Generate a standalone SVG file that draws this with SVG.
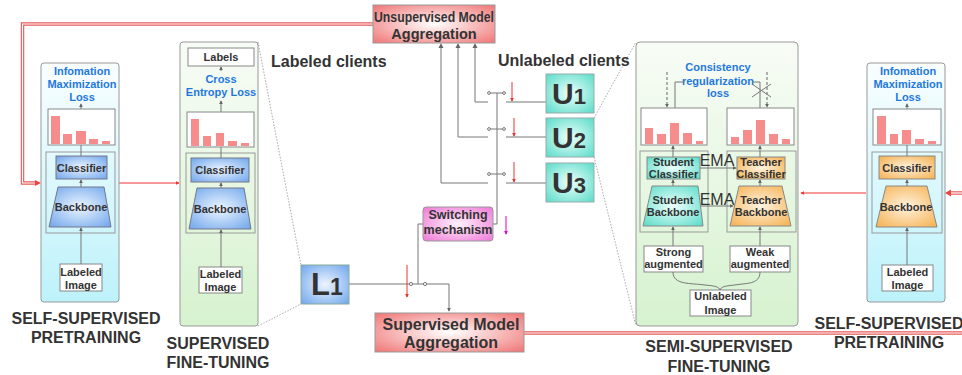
<svg xmlns="http://www.w3.org/2000/svg" width="962" height="375" viewBox="0 0 962 375">
<defs>
<linearGradient id="gCyan" x1="0" y1="0" x2="0" y2="1"><stop offset="0" stop-color="#f9feff"/><stop offset="1" stop-color="#bdf2fb"/></linearGradient>
<linearGradient id="gGreen" x1="0" y1="0" x2="0" y2="1"><stop offset="0" stop-color="#f8fcf6"/><stop offset="1" stop-color="#d6f2cf"/></linearGradient>
<radialGradient id="gBlue" cx="0.5" cy="0.5" r="0.7"><stop offset="0" stop-color="#eef5ff"/><stop offset="1" stop-color="#6ea6ec"/></radialGradient>
<radialGradient id="gOrange" cx="0.5" cy="0.5" r="0.7"><stop offset="0" stop-color="#fff3e0"/><stop offset="1" stop-color="#f5b04e"/></radialGradient>
<radialGradient id="gTeal" cx="0.5" cy="0.5" r="0.7"><stop offset="0" stop-color="#effffc"/><stop offset="1" stop-color="#58dcc8"/></radialGradient>
<radialGradient id="gPink" cx="0.5" cy="0.5" r="0.7"><stop offset="0" stop-color="#fff2fc"/><stop offset="1" stop-color="#ef78d6"/></radialGradient>
<radialGradient id="gRed" cx="0.5" cy="0.5" r="0.7"><stop offset="0" stop-color="#ffffff"/><stop offset="1" stop-color="#f07474"/></radialGradient>
<marker id="aG" viewBox="0 0 6 6" refX="5" refY="3" markerWidth="4" markerHeight="4" orient="auto"><path d="M0,0 L6,3 L0,6 z" fill="#666"/></marker>
<marker id="aR" viewBox="0 0 6 6" refX="5" refY="3" markerWidth="4" markerHeight="4" orient="auto"><path d="M0,0 L6,3 L0,6 z" fill="#e33"/></marker>
<marker id="aM" viewBox="0 0 6 6" refX="5" refY="3" markerWidth="4" markerHeight="4" orient="auto"><path d="M0,0 L6,3 L0,6 z" fill="#d0c"/></marker>
</defs>
<style>
text{font-family:"Liberation Sans",Arial,sans-serif;fill:#333;}
.t{font-size:11px;font-weight:bold;text-anchor:middle;}
.b{font-size:11px;font-weight:bold;text-anchor:middle;fill:#1f78e0;}
.h{font-size:16px;font-weight:bold;text-anchor:middle;}
.panel{stroke:#999;stroke-width:1;}
.box{fill:none;stroke:#999;stroke-width:1;}
.wbox{fill:#fff;stroke:#888;stroke-width:1;}
.bar{fill:#f78c8c;}
.ln{fill:none;stroke:#777;stroke-width:1;}
.lna{fill:none;stroke:#777;stroke-width:1;marker-end:url(#aG);}
.dot{fill:none;stroke:#aaa;stroke-width:1;stroke-dasharray:1.5 1.5;}
.r2o{fill:none;stroke:#e65a5a;stroke-width:3.5;}
.r2i{fill:none;stroke:#fff;stroke-width:1.2;}
.rt{fill:none;stroke:#e33;stroke-width:1;}
.sw circle{fill:#fff;stroke:#777;stroke-width:1;}
</style>

<!-- connectors -->
<g id="connectors">
  <path class="r2o" d="M373,24 H22.5 V183 H37"/>
  <path class="r2i" d="M373,24 H22.5 V183 H37"/>
  <path d="M35,180 L41,183 L35,186 z" fill="#e44"/>
  <line class="rt" x1="119" y1="183" x2="179" y2="183" marker-end="url(#aR)"/>
  <path class="r2o" d="M524,333 H962"/>
  <path class="r2i" d="M524,333 H962"/>
  <path class="r2o" d="M962,193 H949"/>
  <path class="r2i" d="M962,193 H949"/>
  <path d="M951,189.5 L945,193 L951,196.5 z" fill="#e44"/>
  <line class="rt" x1="866" y1="193" x2="801" y2="193" marker-end="url(#aR)"/>
  <line class="dot" x1="258" y1="42" x2="301" y2="265"/>
  <line class="dot" x1="258" y1="326" x2="301" y2="304"/>
  <line class="dot" x1="594" y1="118" x2="636" y2="42"/>
  <line class="dot" x1="594" y1="157" x2="636" y2="326"/>
  <path class="ln" d="M349,284 H449 V311" marker-end="url(#aG)"/>
  <g class="sw"><circle cx="411" cy="284" r="1.6"/><circle cx="425" cy="284" r="1.6"/></g>
  <line class="rt" x1="407" y1="265" x2="407" y2="297" marker-end="url(#aR)"/>
  <path class="ln" d="M418,284 V224 H423"/>
  <path class="ln" d="M475,45 V102 H488"/>
  <path class="ln" d="M458,45 V137 H488"/>
  <path class="ln" d="M441,45 V183 H488"/>
  <path d="M441,43 L438.5,48 L443.5,48 z M458,43 L455.5,48 L460.5,48 z M475,43 L472.5,48 L477.5,48 z" fill="#666"/>
  <line class="ln" x1="506" y1="102" x2="546" y2="102"/>
  <line class="ln" x1="506" y1="137" x2="546" y2="137"/>
  <line class="ln" x1="506" y1="183" x2="546" y2="183"/>
  <line class="ln" x1="489" y1="93" x2="504" y2="93"/>
  <line class="ln" x1="489" y1="129" x2="504" y2="129"/>
  <line class="ln" x1="489" y1="174" x2="504" y2="174"/>
  <g class="sw">
    <circle cx="489" cy="93" r="1.4"/><circle cx="504" cy="93" r="1.4"/>
    <circle cx="489" cy="129" r="1.4"/><circle cx="504" cy="129" r="1.4"/>
    <circle cx="489" cy="174" r="1.4"/><circle cx="504" cy="174" r="1.4"/>
  </g>
  <path class="ln" d="M497,93 V224 H493"/>
  <line class="rt" x1="512" y1="82" x2="512" y2="101" marker-end="url(#aR)"/>
  <line class="rt" x1="514" y1="118" x2="514" y2="136" marker-end="url(#aR)"/>
  <line class="rt" x1="514" y1="162" x2="514" y2="182" marker-end="url(#aR)"/>
  <line x1="506" y1="216" x2="506" y2="234" stroke="#d0c" stroke-width="1" marker-end="url(#aM)"/>
</g>

<!-- Left self-supervised panel -->
<g id="ssp-left">
  <rect class="panel" x="41" y="63" width="78" height="239" rx="3" fill="url(#gCyan)"/>
  <text class="b" x="82" y="75">Infomation</text>
  <text class="b" x="82" y="88">Maximization</text>
  <text class="b" x="82" y="101">Loss</text>
  <rect class="wbox" x="48" y="109" width="67" height="36"/>
  <rect class="bar" x="51" y="116" width="9" height="28"/>
  <rect class="bar" x="63" y="134" width="9" height="10"/>
  <rect class="bar" x="76" y="131" width="10" height="13"/>
  <rect class="bar" x="89" y="139" width="9" height="5"/>
  <rect class="bar" x="102" y="141" width="8" height="3"/>
  <rect class="box" x="46" y="152" width="69" height="81"/>
  <rect x="56" y="156" width="51" height="23" fill="url(#gBlue)" stroke="#778" stroke-width="1"/>
  <text class="t" x="81.5" y="172">Classifier</text>
  <polygon points="58,187 104,187 111,227 49,227" fill="url(#gBlue)" stroke="#778" stroke-width="1"/>
  <text class="t" x="81" y="211">Backbone</text>
  <rect class="wbox" x="60" y="264" width="42" height="27"/>
  <text class="t" x="81" y="276">Labeled</text>
  <text class="t" x="81" y="289">Image</text>
  <line class="lna" x1="81" y1="264" x2="81" y2="228"/>
  <line class="lna" x1="81" y1="187" x2="81" y2="180"/>
  <line class="ln" x1="81" y1="156" x2="81" y2="145"/>
  <line class="lna" x1="81" y1="109" x2="81" y2="104"/>
  <text class="h" x="86" y="324">SELF-SUPERVISED</text>
  <text class="h" x="86" y="343">PRETRAINING</text>
</g>

<!-- Supervised fine-tuning panel -->
<g id="sft">
  <rect class="panel" x="180" y="42" width="78" height="284" rx="3" fill="url(#gGreen)"/>
  <rect class="wbox" x="188" y="48" width="66" height="18"/>
  <text class="t" x="221" y="61">Labels</text>
  <line class="lna" x1="221" y1="71" x2="221" y2="67"/>
  <text class="b" x="221" y="83">Cross</text>
  <text class="b" x="221" y="96">Entropy Loss</text>
  <line class="lna" x1="221" y1="112" x2="221" y2="101"/>
  <rect class="wbox" x="187" y="112" width="67" height="35"/>
  <rect class="bar" x="191" y="119" width="8" height="27"/>
  <rect class="bar" x="203" y="136" width="8" height="10"/>
  <rect class="bar" x="216" y="133" width="8" height="13"/>
  <rect class="bar" x="228" y="141" width="9" height="5"/>
  <rect class="bar" x="241" y="143" width="8" height="3"/>
  <rect class="box" x="186" y="153" width="69" height="80"/>
  <rect x="191" y="158" width="58" height="24" fill="url(#gBlue)" stroke="#778" stroke-width="1"/>
  <text class="t" x="220" y="174">Classifier</text>
  <polygon points="197,188 244,188 251,229 189,229" fill="url(#gBlue)" stroke="#778" stroke-width="1"/>
  <text class="t" x="220" y="213">Backbone</text>
  <rect class="wbox" x="199" y="267" width="43" height="26"/>
  <text class="t" x="220.5" y="278">Labeled</text>
  <text class="t" x="220.5" y="291">Image</text>
  <line class="lna" x1="221" y1="267" x2="221" y2="230"/>
  <line class="lna" x1="221" y1="188" x2="221" y2="183"/>
  <line class="ln" x1="221" y1="158" x2="221" y2="147"/>
  <text class="h" x="218" y="349">SUPERVISED</text>
  <text class="h" x="218" y="368">FINE-TUNING</text>
</g>

<text class="h" x="271" y="67" style="text-anchor:start">Labeled clients</text>
<text class="h" x="498" y="66" style="text-anchor:start">Unlabeled clients</text>

<!-- Aggregation nodes -->
<g id="unsup-agg">
  <rect x="373" y="5" width="122" height="38" fill="url(#gRed)" stroke="#999" stroke-width="1"/>
  <text class="t" x="434" y="22" style="font-size:14.5px" textLength="120" lengthAdjust="spacingAndGlyphs">Unsupervised Model</text>
  <text class="t" x="434" y="39" style="font-size:14.5px">Aggregation</text>
</g>
<g id="sup-agg">
  <rect x="375" y="313" width="149" height="39" fill="url(#gRed)" stroke="#999" stroke-width="1"/>
  <text class="h" x="451" y="330">Supervised Model</text>
  <text class="h" x="451" y="348">Aggregation</text>
</g>

<!-- Clients -->
<g id="L1">
  <rect x="301" y="265" width="48" height="39" fill="url(#gBlue)" stroke="#8a9" stroke-width="1"/>
  <text x="311" y="295" style="font-size:31px;font-weight:bold">L<tspan style="font-size:23px">1</tspan></text>
</g>
<g id="U1">
  <rect x="546" y="74" width="48" height="39" fill="url(#gTeal)" stroke="#9aa" stroke-width="1"/>
  <text x="552" y="104" style="font-size:30px;font-weight:bold">U<tspan style="font-size:22px">1</tspan></text>
</g>
<g id="U2">
  <rect x="546" y="118" width="48" height="39" fill="url(#gTeal)" stroke="#9aa" stroke-width="1"/>
  <text x="552" y="148" style="font-size:30px;font-weight:bold">U<tspan style="font-size:22px">2</tspan></text>
</g>
<g id="U3">
  <rect x="546" y="163" width="48" height="39" fill="url(#gTeal)" stroke="#9aa" stroke-width="1"/>
  <text x="552" y="193" style="font-size:30px;font-weight:bold">U<tspan style="font-size:22px">3</tspan></text>
</g>
<g id="switching">
  <rect x="423" y="207" width="70" height="34" rx="3" fill="url(#gPink)" stroke="#999" stroke-width="1"/>
  <text class="t" x="458" y="219" style="font-size:12.5px">Switching</text>
  <text class="t" x="458" y="234" style="font-size:12.5px">mechanism</text>
</g>

<!-- Semi-supervised panel -->
<g id="semi">
  <rect class="panel" x="636" y="42" width="162" height="284" rx="4" fill="url(#gGreen)"/>
  <text class="b" x="718" y="71">Consistency</text>
  <text class="b" x="718" y="85">regularization</text>
  <text class="b" x="718" y="97">loss</text>
  <path class="ln" d="M684,82 H675 V108"/>
  <path class="ln" d="M752,82 H760 V108"/>
  <line x1="667" y1="72" x2="667" y2="107" stroke="#666" stroke-dasharray="3 2" marker-end="url(#aG)"/>
  <line x1="767" y1="72" x2="767" y2="107" stroke="#666" stroke-dasharray="3 2" marker-end="url(#aG)"/>
  <path class="ln" d="M752,84 L771,97 M752,97 L771,84"/>
  <rect class="wbox" x="641" y="108" width="66" height="37"/>
  <rect class="bar" x="645" y="128" width="8" height="16"/>
  <rect class="bar" x="657" y="134" width="9" height="10"/>
  <rect class="bar" x="670" y="123" width="9" height="21"/>
  <rect class="bar" x="683" y="133" width="9" height="11"/>
  <rect class="bar" x="696" y="141" width="7" height="3"/>
  <rect class="wbox" x="727" y="108" width="67" height="37"/>
  <rect class="bar" x="731" y="137" width="8" height="7"/>
  <rect class="bar" x="743" y="130" width="9" height="14"/>
  <rect class="bar" x="756" y="120" width="9" height="24"/>
  <rect class="bar" x="769" y="134" width="9" height="10"/>
  <rect class="bar" x="782" y="139" width="8" height="5"/>
  <rect class="box" x="640" y="151" width="68" height="81"/>
  <rect class="box" x="727" y="151" width="69" height="81"/>
  <rect x="647" y="157" width="53" height="22" fill="url(#gTeal)" stroke="#888" stroke-width="1"/>
  <text class="t" x="673.5" y="166">Student</text>
  <text class="t" x="673.5" y="178">Classifier</text>
  <rect x="737" y="157" width="48" height="22" fill="url(#gOrange)" stroke="#888" stroke-width="1"/>
  <text class="t" x="761" y="166">Teacher</text>
  <text class="t" x="761" y="178">Classifier</text>
  <polygon points="652,186 698,186 703,226 643,226" fill="url(#gTeal)" stroke="#888" stroke-width="1"/>
  <text class="t" x="673" y="204">Student</text>
  <text class="t" x="673" y="216">Backbone</text>
  <polygon points="739,186 782,186 791,226 730,226" fill="url(#gOrange)" stroke="#888" stroke-width="1"/>
  <text class="t" x="761" y="204">Teacher</text>
  <text class="t" x="761" y="216">Backbone</text>
  <line class="lna" x1="700" y1="168" x2="736" y2="168"/>
  <line class="lna" x1="701" y1="206" x2="733" y2="206"/>
  <text x="717" y="166" style="font-size:16px;text-anchor:middle">EMA</text>
  <text x="717" y="205" style="font-size:16px;text-anchor:middle">EMA</text>
  <rect class="wbox" x="644" y="246" width="59" height="26"/>
  <text class="t" x="673.5" y="256">Strong</text>
  <text class="t" x="673.5" y="268">augmented</text>
  <rect class="wbox" x="730" y="246" width="60" height="26"/>
  <text class="t" x="760" y="256">Weak</text>
  <text class="t" x="760" y="268">augmented</text>
  <rect class="wbox" x="690" y="290" width="61" height="26"/>
  <text class="t" x="720.5" y="300">Unlabeled</text>
  <text class="t" x="720.5" y="314">Image</text>
  <path class="ln" d="M673,272 C673,285 690,283 705,285 C716,286 719,287 720,290"/>
  <path class="ln" d="M760,272 C760,285 745,283 735,285 C724,286 721,287 720,290"/>
  <line class="lna" x1="673" y1="246" x2="673" y2="227"/>
  <line class="lna" x1="760" y1="246" x2="760" y2="227"/>
  <line class="lna" x1="673" y1="186" x2="673" y2="180"/>
  <line class="lna" x1="760" y1="186" x2="760" y2="180"/>
  <line class="lna" x1="673" y1="157" x2="673" y2="146"/>
  <line class="lna" x1="760" y1="157" x2="760" y2="146"/>
  <text class="h" x="719" y="352">SEMI-SUPERVISED</text>
  <text class="h" x="719" y="372">FINE-TUNING</text>
</g>

<!-- Right self-supervised panel -->
<g id="ssp-right">
  <rect class="panel" x="867" y="63" width="78" height="239" rx="3" fill="url(#gCyan)"/>
  <text class="b" x="908" y="75">Infomation</text>
  <text class="b" x="908" y="88">Maximization</text>
  <text class="b" x="908" y="101">Loss</text>
  <rect class="wbox" x="873" y="109" width="68" height="36"/>
  <rect class="bar" x="877" y="116" width="9" height="28"/>
  <rect class="bar" x="890" y="134" width="8" height="10"/>
  <rect class="bar" x="902" y="130" width="9" height="14"/>
  <rect class="bar" x="915" y="139" width="9" height="5"/>
  <rect class="bar" x="928" y="141" width="8" height="3"/>
  <rect class="box" x="872" y="152" width="70" height="81"/>
  <rect x="879" y="156" width="56" height="23" fill="url(#gOrange)" stroke="#888" stroke-width="1"/>
  <text class="t" x="907" y="172">Classifier</text>
  <polygon points="886,186 927,186 937,227 876,227" fill="url(#gOrange)" stroke="#888" stroke-width="1"/>
  <text class="t" x="906" y="211">Backbone</text>
  <rect class="wbox" x="882" y="265" width="51" height="26"/>
  <text class="t" x="907.5" y="276">Labeled</text>
  <text class="t" x="907.5" y="289">Image</text>
  <line class="lna" x1="907" y1="265" x2="907" y2="228"/>
  <line class="lna" x1="907" y1="186" x2="907" y2="180"/>
  <line class="ln" x1="907" y1="156" x2="907" y2="145"/>
  <line class="lna" x1="907" y1="109" x2="907" y2="104"/>
  <text class="h" x="889" y="329">SELF-SUPERVISED</text>
  <text class="h" x="889" y="348">PRETRAINING</text>
</g>
</svg>
